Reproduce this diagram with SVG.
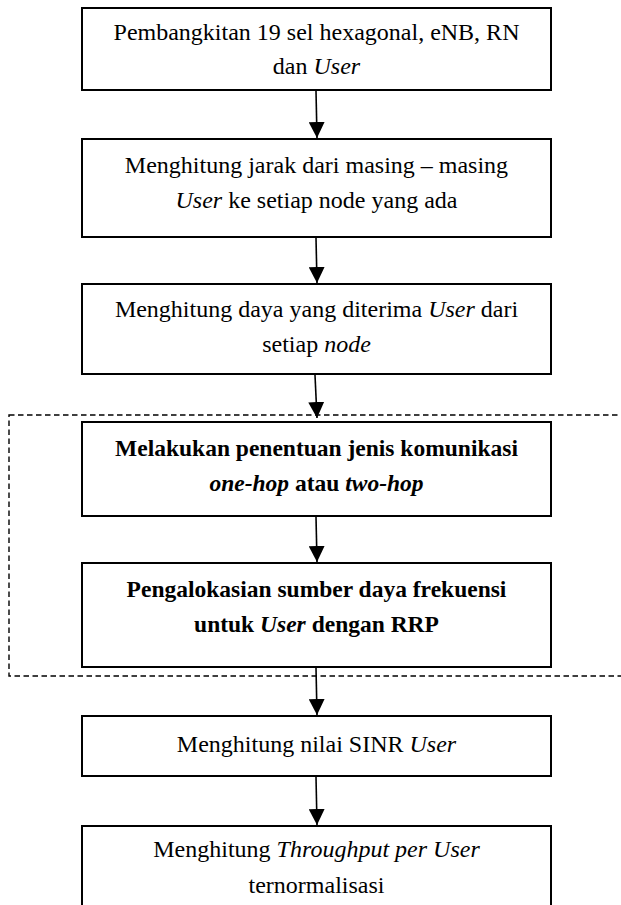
<svg xmlns="http://www.w3.org/2000/svg" width="621" height="905" viewBox="0 0 621 905">
<style>
.box{fill:#fff;stroke:#000;stroke-width:2}
.t{font-family:"Liberation Serif","Times New Roman",serif;font-size:24px;fill:#000;text-anchor:middle}
.b{font-weight:bold;font-size:23.5px}
.i{font-style:italic}
.c{stroke:#000;stroke-width:1.6;fill:none}
.dash{fill:none;stroke:#000;stroke-width:1.4;stroke-dasharray:5.5 3.5}
</style>
<defs>
<marker id="ah" viewBox="0 0 16 16" refX="16" refY="8" markerWidth="16" markerHeight="16" markerUnits="userSpaceOnUse" orient="auto">
<path d="M0,0 L16,8 L0,16 Z" fill="#000"/>
</marker>
</defs>
<rect class="dash" x="9" y="415" width="640" height="261"/>
<g id="n1"><rect class="box" x="82" y="8" width="469" height="82"/>
<text class="t" x="316.5" y="40">Pembangkitan 19 sel hexagonal, eNB, RN</text>
<text class="t" x="316.5" y="74">dan <tspan class="i">User</tspan></text></g>
<g id="n2"><rect class="box" x="82" y="139" width="469" height="98"/>
<text class="t" x="316.5" y="173">Menghitung jarak dari masing – masing</text>
<text class="t" x="316.5" y="208"><tspan class="i">User</tspan> ke setiap node yang ada</text></g>
<g id="n3"><rect class="box" x="82" y="284" width="469" height="90"/>
<text class="t" x="316.5" y="317">Menghitung daya yang diterima <tspan class="i">User</tspan> dari</text>
<text class="t" x="316.5" y="352">setiap <tspan class="i">node</tspan></text></g>
<g id="n4"><rect class="box" x="82" y="422" width="469" height="94"/>
<text class="t b" x="316.5" y="456">Melakukan penentuan jenis komunikasi</text>
<text class="t b" x="316.5" y="491"><tspan class="i">one-hop</tspan> atau <tspan class="i">two-hop</tspan></text></g>
<g id="n5"><rect class="box" x="82" y="563" width="469" height="104"/>
<text class="t b" x="316.5" y="597">Pengalokasian sumber daya frekuensi</text>
<text class="t b" x="316.5" y="632">untuk <tspan class="i">User</tspan> dengan RRP</text></g>
<g id="n6"><rect class="box" x="82" y="716" width="469" height="60"/>
<text class="t" x="316.5" y="752">Menghitung nilai SINR <tspan class="i">User</tspan></text></g>
<g id="n7"><rect class="box" x="82" y="826" width="469" height="90"/>
<text class="t" x="316.5" y="857">Menghitung <tspan class="i">Throughput per User</tspan></text>
<text class="t" x="316.5" y="893">ternormalisasi</text></g>
<g id="connectors">
<line class="c" x1="316" y1="91" x2="317" y2="138" marker-end="url(#ah)"/>
<line class="c" x1="316" y1="238" x2="317" y2="283" marker-end="url(#ah)"/>
<line class="c" x1="315" y1="375" x2="317" y2="418" marker-end="url(#ah)"/>
<line class="c" x1="316" y1="517" x2="317" y2="562" marker-end="url(#ah)"/>
<line class="c" x1="316" y1="668" x2="317" y2="715" marker-end="url(#ah)"/>
<line class="c" x1="316" y1="777" x2="317" y2="825" marker-end="url(#ah)"/>
</g>
</svg>
